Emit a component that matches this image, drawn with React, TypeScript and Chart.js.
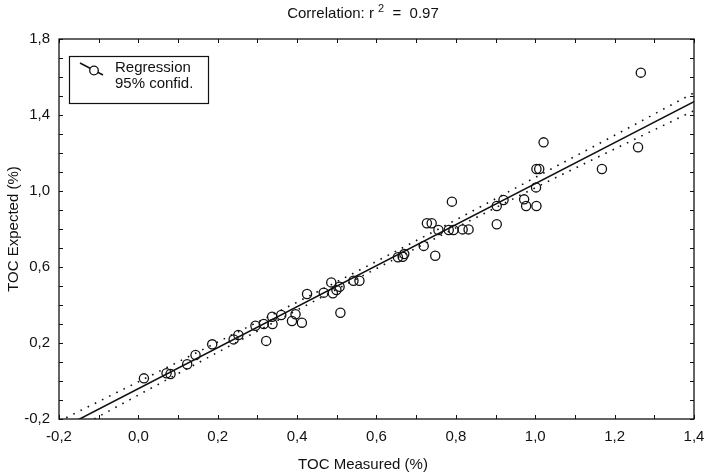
import React, { useEffect, useRef } from 'react';
import { Chart, registerables } from 'chart.js';

Chart.register(...registerables);

// ---- data ----
const measured = [
  0.014, 0.071, 0.081, 0.123, 0.144, 0.186, 0.240, 0.252, 0.295, 0.316,
  0.338, 0.322, 0.337, 0.360, 0.387, 0.396, 0.412, 0.425, 0.467, 0.486,
  0.490, 0.499, 0.507, 0.509, 0.542, 0.557, 0.654, 0.666, 0.670, 0.719,
  0.748, 0.727, 0.739, 0.756, 0.782, 0.794, 0.790, 0.817, 0.832, 0.903,
  0.903, 0.920, 0.972, 0.977, 1.003, 1.002, 1.003, 1.010, 1.021, 1.168,
  1.259, 1.266,
];
const expected = [
  0.014, 0.041, 0.037, 0.088, 0.137, 0.193, 0.219, 0.242, 0.291, 0.300,
  0.300, 0.211, 0.338, 0.347, 0.316, 0.351, 0.307, 0.458, 0.465, 0.519,
  0.462, 0.479, 0.496, 0.359, 0.528, 0.528, 0.651, 0.654, 0.668, 0.711,
  0.659, 0.830, 0.830, 0.795, 0.795, 0.795, 0.944, 0.798, 0.798, 0.921,
  0.825, 0.953, 0.956, 0.921, 0.921, 1.019, 1.116, 1.116, 1.256, 1.116,
  1.230, 1.623,
];

const regX = [-0.2, 1.4];
const regY = [-0.256, 1.47];

const bandX = [-0.2, 0.0, 0.2, 0.4, 0.6, 0.8, 1.0, 1.2, 1.4];
const bandUpper = [-0.212, -0.004, 0.205, 0.415, 0.630, 0.848, 1.071, 1.293, 1.517];
const bandLower = [-0.300, -0.074, 0.151, 0.373, 0.592, 0.806, 1.017, 1.221, 1.423];

const xMin = -0.2;
const xMax = 1.4;
const yMin = -0.2;
const yMax = 1.8;
const tickStep = 0.1;

const titleMain = 'Correlation: r ';
const titleSup = '2';
const titleRest = '  =  0.97';
const xTitle = 'TOC Measured (%)';
const yTitle = 'TOC Expected (%)';
const legendLabels = ['Regression', '95% confid.'];

const FONT = '"Liberation Sans", Arial, Helvetica, sans-serif';
const INK = '#111';

const fmt = (k: number) => (k / 10).toFixed(1).replace('.', ',');

const decorPlugin = {
  id: 'decor',
  afterDraw(chart: any) {
    const { ctx, chartArea } = chart;
    const { left, right, top, bottom } = chartArea;
    const xs = chart.scales.x;
    const ys = chart.scales.y;
    ctx.save();
    // frame
    ctx.strokeStyle = INK;
    ctx.lineWidth = 1.3;
    ctx.strokeRect(left, top, right - left, bottom - top);
    // inward ticks
    ctx.lineWidth = 1;
    const tl = 4;
    ctx.beginPath();
    xs.ticks.forEach((t: any) => {
      const px = Math.round(xs.getPixelForValue(t.value)) + 0.5;
      ctx.moveTo(px, bottom);
      ctx.lineTo(px, bottom - tl);
      ctx.moveTo(px, top);
      ctx.lineTo(px, top + tl);
    });
    ys.ticks.forEach((t: any) => {
      const py = Math.round(ys.getPixelForValue(t.value)) + 0.5;
      ctx.moveTo(left, py);
      ctx.lineTo(left + tl, py);
      ctx.moveTo(right, py);
      ctx.lineTo(right - tl, py);
    });
    ctx.stroke();

    // title
    ctx.fillStyle = INK;
    ctx.textBaseline = 'alphabetic';
    ctx.font = `15px ${FONT}`;
    const w1 = ctx.measureText(titleMain).width;
    const w3 = ctx.measureText(titleRest).width;
    ctx.font = `11px ${FONT}`;
    const w2 = ctx.measureText(titleSup).width;
    const cx = 363;
    const x0 = cx - (w1 + w2 + w3) / 2;
    ctx.textAlign = 'left';
    ctx.font = `15px ${FONT}`;
    ctx.fillText(titleMain, x0, 18);
    ctx.font = `11px ${FONT}`;
    ctx.fillText(titleSup, x0 + w1, 12);
    ctx.font = `15px ${FONT}`;
    ctx.fillText(titleRest, x0 + w1 + w2, 18);

    // axis titles
    ctx.font = `15px ${FONT}`;
    ctx.textAlign = 'center';
    ctx.textBaseline = 'middle';
    ctx.fillText(xTitle, 363, 465);
    ctx.save();
    ctx.translate(14, (top + bottom) / 2);
    ctx.rotate(-Math.PI / 2);
    ctx.fillText(yTitle, 0, 0);
    ctx.restore();

    // legend
    const bx = 69, by = 56, bw = 139, bh = 47;
    ctx.fillStyle = '#fff';
    ctx.fillRect(bx, by, bw, bh);
    ctx.strokeStyle = INK;
    ctx.lineWidth = 1.2;
    ctx.strokeRect(bx + 0.5, by + 0.5, bw, bh);
    ctx.lineWidth = 1.5;
    ctx.beginPath();
    ctx.moveTo(80, 63);
    ctx.lineTo(103, 75);
    ctx.stroke();
    ctx.beginPath();
    ctx.arc(94, 70.5, 4.3, 0, Math.PI * 2);
    ctx.fillStyle = '#fff';
    ctx.fill();
    ctx.lineWidth = 1.3;
    ctx.stroke();
    ctx.fillStyle = INK;
    ctx.textAlign = 'left';
    ctx.textBaseline = 'middle';
    ctx.font = `15px ${FONT}`;
    ctx.fillText(legendLabels[0], 115, 68);
    ctx.fillText(legendLabels[1], 115, 84);
    ctx.restore();
  },
};

export default function App() {
  const ref = useRef<HTMLCanvasElement | null>(null);
  useEffect(() => {
    document.body.style.margin = '0';
    const canvas = ref.current;
    if (!canvas) return;
    const points = measured.map((x, i) => ({ x, y: expected[i] }));
    const reg = regX.map((x, i) => ({ x, y: regY[i] }));
    const up = bandX.map((x, i) => ({ x, y: bandUpper[i] }));
    const lo = bandX.map((x, i) => ({ x, y: bandLower[i] }));
    const dotted = {
      type: 'line' as const,
      showLine: true,
      borderColor: INK,
      borderWidth: 1.6,
      borderDash: [1.6, 6.4],
      borderCapStyle: 'butt' as const,
      pointRadius: 0,
      fill: false,
      cubicInterpolationMode: 'monotone' as const,
      clip: 0,
    };
    const chart = new Chart(canvas, {
      type: 'scatter',
      data: {
        datasets: [
          {
            type: 'scatter',
            label: 'Data',
            data: points,
            pointStyle: 'circle',
            pointRadius: 4.6,
            pointBorderWidth: 1.3,
            borderColor: INK,
            backgroundColor: 'rgba(0,0,0,0)',
            clip: 6,
          } as any,
          {
            type: 'line',
            label: 'Regression',
            data: reg,
            borderColor: INK,
            borderWidth: 1.6,
            pointRadius: 0,
            fill: false,
            clip: 0,
          } as any,
          { ...dotted, label: 'Upper 95%', data: up } as any,
          { ...dotted, label: 'Lower 95%', data: lo } as any,
        ],
      },
      options: {
        responsive: false,
        animation: false,
        devicePixelRatio: 1,
        layout: { padding: { top: 39, right: 13, left: 0, bottom: 0 } },
        plugins: {
          legend: { display: false },
          tooltip: { enabled: false },
          title: { display: false },
        },
        scales: {
          x: {
            type: 'linear',
            min: xMin,
            max: xMax,
            grid: { display: false, drawTicks: false, tickLength: 0 },
            border: { display: false },
            afterFit: (s: any) => {
              s.height = 56;
              s.paddingLeft = 0;
              s.paddingRight = 0;
            },
            ticks: {
              stepSize: tickStep,
              autoSkip: false,
              maxRotation: 0,
              padding: 9,
              color: INK,
              font: { family: FONT, size: 15 },
              callback: (v: any) => {
                const k = Math.round(Number(v) * 10);
                return (k + 2) % 2 === 0 ? fmt(k) : '';
              },
            },
          },
          y: {
            type: 'linear',
            min: yMin,
            max: yMax,
            grid: { display: false, drawTicks: false, tickLength: 0 },
            border: { display: false },
            afterFit: (s: any) => {
              s.width = 59;
              s.paddingTop = 0;
              s.paddingBottom = 0;
            },
            ticks: {
              stepSize: tickStep,
              autoSkip: false,
              padding: 9,
              color: INK,
              font: { family: FONT, size: 15 },
              callback: (v: any) => {
                const k = Math.round(Number(v) * 10);
                return (k + 2) % 4 === 0 ? fmt(k) : '';
              },
            },
          },
        },
      } as any,
      plugins: [decorPlugin],
    });
    return () => chart.destroy();
  }, []);
  return (
    <div style={{ position: 'absolute', left: 0, top: 0, width: 707, height: 475, background: '#fff' }}>
      <canvas ref={ref} width={707} height={475} style={{ display: 'block', width: 707, height: 475 }} />
    </div>
  );
}
